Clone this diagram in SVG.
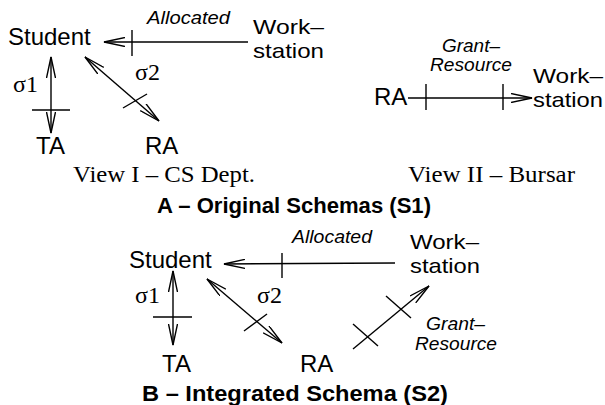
<svg xmlns="http://www.w3.org/2000/svg" width="605" height="405" viewBox="0 0 605 405">
<style>
.n{font-family:"Liberation Sans",Arial,sans-serif;font-size:24px;fill:#000}
.w{font-family:"Liberation Sans",Arial,sans-serif;font-size:21px;fill:#000}
.i{font-family:"Liberation Sans",Arial,sans-serif;font-size:18px;font-style:italic;fill:#000}
.t{font-family:"Liberation Serif","Times New Roman",serif;font-size:24px;fill:#000}
.b{font-family:"Liberation Sans",Arial,sans-serif;font-size:22px;font-weight:bold;fill:#000}
.c{stroke:#000;stroke-width:1.4;fill:none}
</style>
<defs>
<marker id="ah" viewBox="0 0 22 10" refX="21" refY="5" markerWidth="22" markerHeight="10" markerUnits="userSpaceOnUse" orient="auto-start-reverse">
<path d="M0,0.5 L21,5 L0,9.5" fill="none" stroke="#000" stroke-width="1.4"/>
</marker>
</defs>
<g id="connectors">
<line class="c" x1="248" y1="42" x2="104" y2="42" marker-end="url(#ah)"/>
<line class="c" x1="132" y1="30" x2="132" y2="56"/>
<line class="c" x1="51" y1="57" x2="51" y2="133" marker-start="url(#ah)" marker-end="url(#ah)"/>
<line class="c" x1="32" y1="110" x2="70" y2="110"/>
<line class="c" x1="85" y1="57" x2="159" y2="121" marker-start="url(#ah)" marker-end="url(#ah)"/>
<line class="c" x1="123" y1="108" x2="147" y2="94"/>
<line class="c" x1="408" y1="98" x2="532" y2="98" marker-end="url(#ah)"/>
<line class="c" x1="426" y1="84" x2="426" y2="110"/>
<line class="c" x1="503" y1="84" x2="503" y2="110"/>
<line class="c" x1="395" y1="263" x2="224" y2="264" marker-end="url(#ah)"/>
<line class="c" x1="282" y1="253" x2="282" y2="278"/>
<line class="c" x1="173" y1="271" x2="173" y2="345" marker-start="url(#ah)" marker-end="url(#ah)"/>
<line class="c" x1="153" y1="317" x2="192" y2="317"/>
<line class="c" x1="207" y1="279" x2="282" y2="343" marker-start="url(#ah)" marker-end="url(#ah)"/>
<line class="c" x1="244" y1="331" x2="267" y2="314"/>
<line class="c" x1="353" y1="349" x2="429" y2="286" marker-end="url(#ah)"/>
<line class="c" x1="353" y1="324" x2="378" y2="346"/>
<line class="c" x1="386" y1="296" x2="411" y2="318"/>
</g>
<g id="labels">
<text class="i" x="147" y="24" textLength="83" lengthAdjust="spacingAndGlyphs">Allocated</text>
<text class="t" x="13" y="92">σ1</text>
<text class="t" x="135" y="80">σ2</text>
<text class="i" x="442" y="52" textLength="58" lengthAdjust="spacingAndGlyphs">Grant–</text>
<text class="i" x="430" y="71" textLength="82" lengthAdjust="spacingAndGlyphs">Resource</text>
<text class="t" x="73" y="182" textLength="182" lengthAdjust="spacingAndGlyphs">View I – CS Dept.</text>
<text class="t" x="408" y="182" textLength="167" lengthAdjust="spacingAndGlyphs">View II – Bursar</text>
<text class="b" x="157" y="213" textLength="274" lengthAdjust="spacingAndGlyphs">A – Original Schemas (S1)</text>
<text class="i" x="292" y="243" textLength="80" lengthAdjust="spacingAndGlyphs">Allocated</text>
<text class="t" x="135" y="303">σ1</text>
<text class="t" x="257" y="303">σ2</text>
<text class="i" x="426" y="330" textLength="59" lengthAdjust="spacingAndGlyphs">Grant–</text>
<text class="i" x="415" y="350" textLength="82" lengthAdjust="spacingAndGlyphs">Resource</text>
<text class="b" x="142" y="401" textLength="306" lengthAdjust="spacingAndGlyphs">B – Integrated Schema (S2)</text>
</g>
<g id="s1-student"><text class="n" x="8" y="45">Student</text></g>
<g id="s1-workstation"><text class="w" x="253" y="34" textLength="71" lengthAdjust="spacingAndGlyphs">Work–</text><text class="w" x="253" y="58" textLength="71" lengthAdjust="spacingAndGlyphs">station</text></g>
<g id="s1-ta"><text class="n" x="36" y="154">TA</text></g>
<g id="s1-ra"><text class="n" x="145" y="154">RA</text></g>
<g id="s1-ra2"><text class="n" x="374" y="105">RA</text></g>
<g id="s1-workstation2"><text class="w" x="533" y="83" textLength="70" lengthAdjust="spacingAndGlyphs">Work–</text><text class="w" x="533" y="107" textLength="70" lengthAdjust="spacingAndGlyphs">station</text></g>
<g id="s2-student"><text class="n" x="129" y="268">Student</text></g>
<g id="s2-workstation"><text class="w" x="410" y="249" textLength="69" lengthAdjust="spacingAndGlyphs">Work–</text><text class="w" x="410" y="273" textLength="70" lengthAdjust="spacingAndGlyphs">station</text></g>
<g id="s2-ta"><text class="n" x="162" y="372">TA</text></g>
<g id="s2-ra"><text class="n" x="300" y="372">RA</text></g>
</svg>
